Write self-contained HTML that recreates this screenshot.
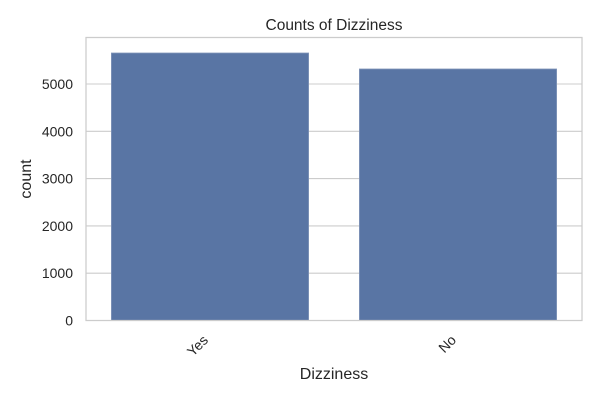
<!DOCTYPE html>
<html><head><meta charset="utf-8"><style>
body{margin:0;background:#fff;}
svg text{font-family:"Liberation Sans","DejaVu Sans",sans-serif;fill:#262626;}
</style></head><body>
<svg id="chart" width="600" height="400">
<text x="334" y="30" font-size="15.5" text-anchor="middle">Counts of Dizziness</text>
<g id="grid"></g>
<g id="bars"></g>
<rect x="86" y="37.5" width="496" height="283" fill="none" stroke="#cccccc" stroke-width="1.25"/>
<g id="yt"></g><g id="xt"></g>
<text x="334" y="379" font-size="16" text-anchor="middle">Dizziness</text>
<text transform="translate(31,179) rotate(-90)" font-size="16" text-anchor="middle">count</text>
</svg>
<script>
const categories=["Yes","No"];
const counts=[5655,5317];
const yTicks=[0,1000,2000,3000,4000,5000];
const L=86,R=582,B=320.5,perUnit=0.0473;
const y=v=>B-v*perUnit;
const band=(R-L)/categories.length;
const xC=i=>L+band*(i+0.5);
const NS="http://www.w3.org/2000/svg";
const grid=document.getElementById('grid'),yt=document.getElementById('yt'),bars=document.getElementById('bars'),xt=document.getElementById('xt');
yTicks.forEach(t=>{
 const l=document.createElementNS(NS,'line');
 l.setAttribute('x1',L);l.setAttribute('x2',R);l.setAttribute('y1',y(t));l.setAttribute('y2',y(t));
 l.setAttribute('stroke','#cccccc');l.setAttribute('stroke-width','1.1');
 
 
 grid.appendChild(l);
 const tx=document.createElementNS(NS,'text');
 tx.setAttribute('x',L-13);tx.setAttribute('y',y(t)+5);tx.setAttribute('font-size','14');tx.setAttribute('text-anchor','end');
 tx.textContent=t;
 
 
 yt.appendChild(tx);
});
categories.forEach((c,i)=>{
 const w=band*0.795;
 const r=document.createElementNS(NS,'rect');
 r.setAttribute('x',xC(i)-w/2);r.setAttribute('width',w);r.setAttribute('y',y(counts[i]));r.setAttribute('height',B-y(counts[i]));
 r.setAttribute('fill','#5975a4');r.setAttribute('stroke','#7f93b8');r.setAttribute('stroke-width','0.8');
 
 
 bars.appendChild(r);
 const tx=document.createElementNS(NS,'text');
 tx.setAttribute('font-size','14');tx.setAttribute('text-anchor','end');
 tx.setAttribute('transform','translate('+(xC(i)-1)+',341) rotate(-45)');
 tx.textContent=c;
 
 
 xt.appendChild(tx);
});
</script>
</body></html>
